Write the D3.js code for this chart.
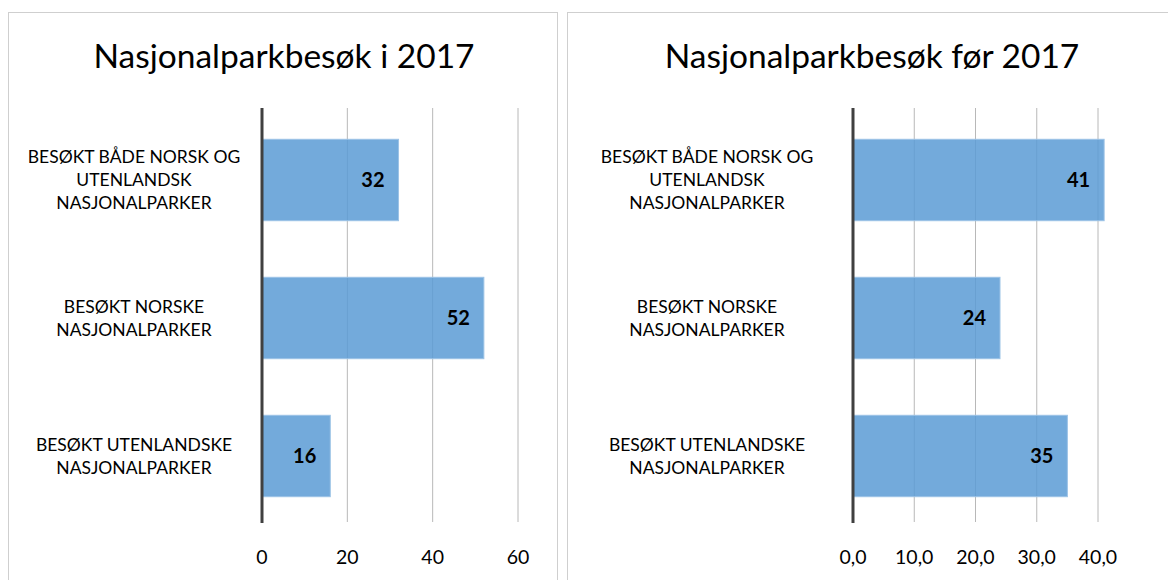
<!DOCTYPE html>
<html>
<head>
<meta charset="utf-8">
<script src="https://cdn.jsdelivr.net/npm/d3@7"></script>
<style>
  body { margin: 0; background: #fff; }
  text { font-family: Lato, "Open Sans", sans-serif; fill: #000; }
</style>
</head>
<body>
<svg id="chart"></svg>
<script>
// data
var categories = [
  ["BESØKT BÅDE NORSK OG", "UTENLANDSK", "NASJONALPARKER"],
  ["BESØKT NORSKE", "NASJONALPARKER"],
  ["BESØKT UTENLANDSKE", "NASJONALPARKER"]
];
var values2017 = [32, 52, 16];
var valuesBefore = [41, 24, 35];
var ticks2017 = [0, 20, 40, 60];
var ticksBefore = [0, 10, 20, 30, 40];

var svg = d3.select('#chart')
  .attr('width', 1168)
  .attr('height', 580);

// panel frames
svg.append('rect').attr('x', 8.5).attr('y', 12.5).attr('width', 549).attr('height', 600)
  .attr('fill', 'none').attr('stroke', '#cfcfcf');
svg.append('rect').attr('x', 567.5).attr('y', 12.5).attr('width', 620).attr('height', 600)
  .attr('fill', 'none').attr('stroke', '#cfcfcf');

function drawPanel(opt) {
  var g = svg.append('g');

  g.append('text')
    .attr('x', opt.titleX)
    .attr('y', 68)
    .attr('text-anchor', 'middle')
    .style('font-size', '33.5px')
    .text(opt.title);

  var x = d3.scaleLinear().domain([0, opt.max]).range([opt.x0, opt.x1]);
  var y = d3.scaleBand().domain(d3.range(categories.length))
    .range([111, 525]).paddingInner(0.41).paddingOuter(0.205);

  // gridlines
  g.selectAll('.grid')
    .data(opt.ticks.slice(1))
    .enter().append('line')
    .attr('x1', function(d) { return x(d); })
    .attr('x2', function(d) { return x(d); })
    .attr('y1', 108).attr('y2', 522)
    .attr('stroke', '#b8b8b8').attr('stroke-width', 1);

  // tick labels
  g.selectAll('.tick')
    .data(opt.ticks)
    .enter().append('text')
    .attr('x', function(d) { return x(d); })
    .attr('y', 564)
    .attr('text-anchor', 'middle')
    .style('font-size', '19.5px')
    .text(opt.fmt);

  // bars
  g.selectAll('.bar')
    .data(opt.values)
    .enter().append('rect')
    .attr('x', x(0))
    .attr('y', function(d, i) { return y(i); })
    .attr('width', function(d) { return x(d) - x(0); })
    .attr('height', y.bandwidth())
    .attr('fill', '#5b9bd5')
    .attr('fill-opacity', 0.85)
    .attr('stroke', '#9cc3e6')
    .attr('stroke-width', 1);

  // value labels
  g.selectAll('.val')
    .data(opt.values)
    .enter().append('text')
    .attr('x', function(d) { return x(d) - 14; })
    .attr('y', function(d, i) { return y(i) + y.bandwidth() / 2 + 7; })
    .attr('text-anchor', 'end')
    .style('font-size', '20px')
    .style('font-weight', 'bold')
    .text(function(d) { return d; });

  // axis line
  g.append('line')
    .attr('x1', x(0)).attr('x2', x(0))
    .attr('y1', 108).attr('y2', 523)
    .attr('stroke', '#404040').attr('stroke-width', 3);

  // category labels
  categories.forEach(function(lines, i) {
    var cy = y(i) + y.bandwidth() / 2;
    var lh = 23;
    var top = cy - (lines.length - 1) * lh / 2;
    var t = g.append('text')
      .attr('text-anchor', 'middle')
      .style('font-size', '17.5px');
    lines.forEach(function(s, j) {
      t.append('tspan')
        .attr('x', opt.labelX)
        .attr('y', top + j * lh + 6)
        .text(s);
    });
  });
}

drawPanel({
  title: 'Nasjonalparkbesøk i 2017',
  titleX: 284,
  values: values2017,
  ticks: ticks2017,
  max: 60,
  x0: 262, x1: 518,
  labelX: 134,
  fmt: function(d) { return d; }
});

drawPanel({
  title: 'Nasjonalparkbesøk før 2017',
  titleX: 872,
  values: valuesBefore,
  ticks: ticksBefore,
  max: 40,
  x0: 853, x1: 1098,
  labelX: 707,
  fmt: function(d) { return d3.format('.1f')(d).replace('.', ','); }
});
</script>
</body>
</html>
